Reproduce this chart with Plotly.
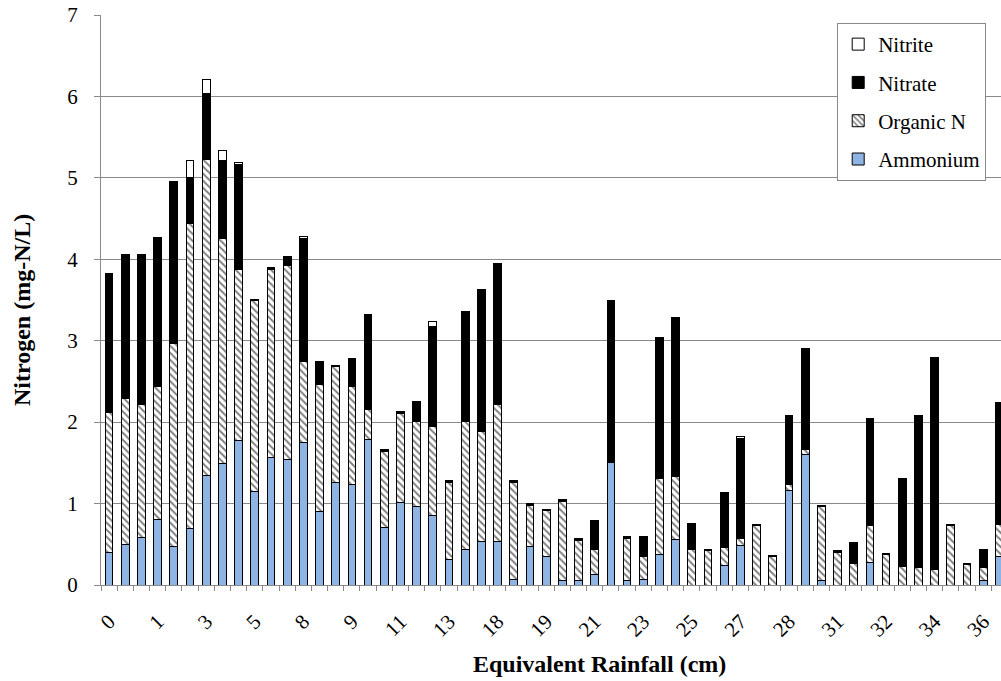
import plotly.graph_objects as go

# Nitrogen species in runoff samples, mg-N/L (stacked components)
ammonium = [0.40, 0.50, 0.58, 0.80, 0.47, 0.69, 1.34, 1.49, 1.77, 1.15,
            1.56, 1.54, 1.75, 0.90, 1.26, 1.24, 1.79, 0.71, 1.01, 0.96,
            0.85, 0.31, 0.43, 0.54, 0.54, 0.07, 0.47, 0.35, 0.06, 0.06,
            0.13, 1.50, 0.06, 0.07, 0.38, 0.56, 0.00, 0.00, 0.24, 0.48,
            0.00, 0.00, 1.16, 1.60, 0.06, 0.00, 0.00, 0.28, 0.00, 0.00,
            0.00, 0.00, 0.00, 0.00, 0.05, 0.35]
organic_n = [1.72, 1.79, 1.64, 1.64, 2.49, 3.75, 3.88, 2.76, 2.10, 2.34,
             2.32, 2.38, 0.99, 1.56, 1.42, 1.20, 0.37, 0.93, 1.10, 1.05,
             1.10, 0.95, 1.58, 1.34, 1.68, 1.19, 0.51, 0.57, 0.97, 0.49,
             0.30, 0.00, 0.51, 0.28, 0.93, 0.77, 0.43, 0.42, 0.22, 0.09,
             0.73, 0.35, 0.07, 0.06, 0.91, 0.40, 0.27, 0.45, 0.38, 0.23,
             0.21, 0.19, 0.73, 0.25, 0.16, 0.39]
nitrate = [1.71, 1.77, 1.84, 1.83, 2.00, 0.56, 0.81, 0.96, 1.30, 0.02,
           0.02, 0.12, 1.52, 0.28, 0.02, 0.34, 1.16, 0.02, 0.02, 0.24,
           1.23, 0.02, 1.35, 1.75, 1.73, 0.02, 0.02, 0.01, 0.02, 0.02,
           0.36, 2.00, 0.02, 0.24, 1.73, 1.96, 0.32, 0.01, 0.67, 1.23,
           0.01, 0.01, 0.85, 1.24, 0.01, 0.02, 0.25, 1.31, 0.01, 1.08,
           1.87, 2.61, 0.01, 0.02, 0.22, 1.50]
nitrite = [0.00, 0.00, 0.00, 0.00, 0.00, 0.21, 0.18, 0.13, 0.02, 0.00,
           0.00, 0.00, 0.02, 0.00, 0.00, 0.00, 0.00, 0.00, 0.00, 0.00,
           0.05, 0.00, 0.00, 0.00, 0.00, 0.00, 0.00, 0.00, 0.00, 0.00,
           0.00, 0.00, 0.00, 0.00, 0.00, 0.00, 0.00, 0.00, 0.00, 0.02,
           0.00, 0.00, 0.00, 0.00, 0.00, 0.00, 0.00, 0.00, 0.00, 0.00,
           0.00, 0.00, 0.00, 0.00, 0.00, 0.00]

# Cumulative equivalent rainfall (cm), labelled on every third sample
rainfall_labels = ["0", "1", "3", "5", "8", "9", "11", "13", "18", "19",
                   "21", "23", "25", "27", "28", "31", "32", "34", "36"]
label_every = 3

sample = list(range(len(ammonium)))
label_pos = sample[::label_every][:len(rainfall_labels)]

FONT = "Times New Roman, Liberation Serif, DejaVu Serif, serif"
GRID = "#8a8a8a"
OUTLINE = dict(color="black", width=1)

fig = go.Figure()
# legendrank lists the top of the stack first
fig.add_bar(x=sample, y=ammonium, name="Ammonium", legendgroup="a",
            legendrank=4, marker=dict(color="#8DB4E2", line=OUTLINE))
fig.add_bar(x=sample, y=organic_n, name="Organic N", legendgroup="o",
            legendrank=3,
            marker=dict(color="white", line=OUTLINE,
                        pattern=dict(shape="\\", fgcolor="black", bgcolor="white",
                                     size=5, solidity=0.4)))
fig.add_bar(x=sample, y=nitrate, name="Nitrate", legendgroup="n3",
            legendrank=2, marker=dict(color="black", line=OUTLINE))
fig.add_bar(x=sample, y=nitrite, name="Nitrite", legendgroup="n2",
            legendrank=1, marker=dict(color="white", line=OUTLINE))

fig.update_layout(
    width=1001, height=681,
    margin=dict(l=101, r=0, t=15, b=96),
    barmode="stack", bargap=0.52,
    plot_bgcolor="white", paper_bgcolor="white",
    font=dict(family=FONT, size=21, color="black"),
    legend=dict(x=0.818, y=0.986, xanchor="left", yanchor="top",
                traceorder="grouped", tracegroupgap=8,
                bordercolor=GRID, borderwidth=1, bgcolor="white",
                font=dict(family=FONT, size=21, color="black")),
    xaxis=dict(range=[-0.5, 55.1], tickmode="array", tickvals=label_pos,
               ticktext=rainfall_labels, tickangle=-45, ticks="",
               ticklabelstandoff=15, showgrid=False, zeroline=False,
               showline=True, linecolor=GRID, linewidth=1,
               tickfont=dict(family=FONT, size=21, color="black"),
               minor=dict(ticks="outside", tickmode="linear", tick0=-0.5,
                          dtick=1, ticklen=5, tickcolor=GRID, showgrid=False)),
    yaxis=dict(range=[0, 7], dtick=1, showgrid=True, gridcolor=GRID,
               gridwidth=1, zeroline=False, showline=True, linecolor=GRID,
               linewidth=1, ticks="outside", ticklen=6, tickcolor=GRID,
               ticklabelstandoff=12,
               tickfont=dict(family=FONT, size=21, color="black")),
    annotations=[
        dict(text="<b>Equivalent Rainfall (cm)</b>", xref="paper", yref="paper",
             x=0.554, y=-0.139, xanchor="center", yanchor="middle",
             showarrow=False, font=dict(family=FONT, size=24, color="black")),
        dict(text="<b>Nitrogen (mg-N/L)</b>", xref="paper", yref="paper",
             x=-0.088, y=0.482, xanchor="center", yanchor="middle",
             textangle=-90, showarrow=False,
             font=dict(family=FONT, size=24, color="black")),
    ],
)

fig.write_html("out.html")
